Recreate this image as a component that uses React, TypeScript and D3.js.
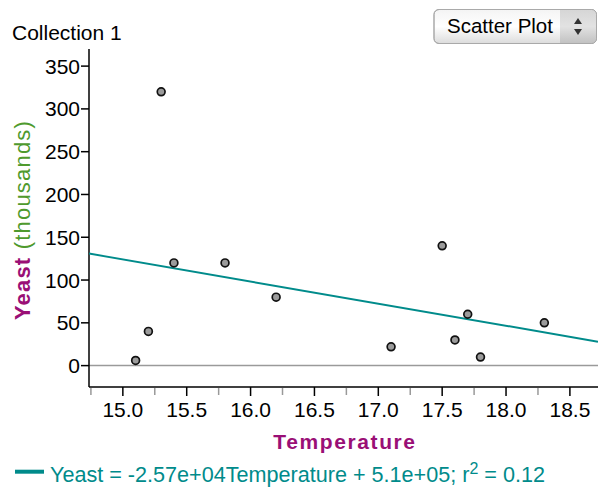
import React from "react";
import * as d3 from "d3";

const temperature = [15.1, 15.2, 15.3, 15.4, 15.8, 16.2, 17.1, 17.5, 17.6, 17.7, 17.8, 18.3];
const yeast = [6, 40, 320, 120, 120, 80, 22, 140, 30, 60, 10, 50];
const yTicks = [0, 50, 100, 150, 200, 250, 300, 350];
const xMajorTicks = [15.0, 15.5, 16.0, 16.5, 17.0, 17.5, 18.0, 18.5];
const xMinorTicks = [14.75, 15.25, 15.75, 16.25, 16.75, 17.25, 17.75, 18.25];

const W = 598;
const H = 489;
const FONT = "'Liberation Sans', Arial, sans-serif";
const TEAL = "#008b8b";
const PURPLE = "#9a0f76";

export default function App() {
  const left = 89, right = 598, top = 49, bottom = 387;
  const x = d3.scaleLinear().domain([14.735, 18.72]).range([left, right]);
  const y = d3.scaleLinear().domain([-25, 370]).range([bottom, top]);

  const mx = d3.mean(temperature) as number;
  const my = d3.mean(yeast) as number;
  let sxy = 0, sxx = 0;
  temperature.forEach((t, i) => {
    sxy += (t - mx) * (yeast[i] - my);
    sxx += (t - mx) * (t - mx);
  });
  const slope = sxy / sxx;
  const intercept = my - slope * mx;
  const [x0, x1] = x.domain();
  const line = d3.line<number>().x((d) => x(d)).y((d) => y(slope * d + intercept));

  return (
    <svg width={W} height={H} style={{ position: "absolute", left: 0, top: 0 }} fontFamily={FONT}>
      <defs>
        <linearGradient id="btn" x1="0" y1="0" x2="0" y2="1">
          <stop offset="0" stopColor="#f4f4f4" />
          <stop offset="0.5" stopColor="#ffffff" />
          <stop offset="1" stopColor="#dcdcdc" />
        </linearGradient>
        <linearGradient id="btn2" x1="0" y1="0" x2="0" y2="1">
          <stop offset="0" stopColor="#d6d6d6" />
          <stop offset="0.5" stopColor="#e2e2e2" />
          <stop offset="1" stopColor="#c2c2c2" />
        </linearGradient>
        <clipPath id="plot">
          <rect x={left} y={top} width={right - left} height={bottom - top} />
        </clipPath>
      </defs>
      <rect width={W} height={H} fill="#fff" />

      <text x={12} y={40} fontSize={21} fill="#000">Collection 1</text>

      {/* dropdown */}
      <rect x={434} y={9.5} width={162.5} height={34} rx={5} fill="url(#btn)" stroke="#a9a9a9" />
      <path d="M560,10 H591.5 a4.5,4.5 0 0 1 4.5,4.5 V38.5 a4.5,4.5 0 0 1 -4.5,4.5 H560 Z" fill="url(#btn2)" />
      <rect x={434} y={9.5} width={162.5} height={34} rx={5} fill="none" stroke="#a9a9a9" />
      <text x={447} y={33} fontSize={20.5} fill="#000">Scatter Plot</text>
      <path d="M578,18 L582,24 L574,24 Z" fill="#333" />
      <path d="M578,35 L582,29 L574,29 Z" fill="#333" />

      {/* zero line */}
      <line x1={left} x2={right} y1={y(0)} y2={y(0)} stroke="#9a9a9a" strokeWidth={1.5} />

      {/* axes */}
      <line x1={left} x2={left} y1={top} y2={bottom} stroke="#000" strokeWidth={1.5} />
      <line x1={left} x2={right} y1={bottom} y2={bottom} stroke="#000" strokeWidth={1.5} />

      {yTicks.map((t) => (
        <g key={"y" + t}>
          <line x1={81} x2={left} y1={y(t)} y2={y(t)} stroke="#000" strokeWidth={1.5} />
          <text x={80} y={y(t)} dy="0.36em" textAnchor="end" fontSize={21} fill="#000">{t}</text>
        </g>
      ))}
      {xMinorTicks.map((t) => (
        <line key={"xm" + t} x1={x(t)} x2={x(t)} y1={bottom + 1} y2={bottom + 8} stroke="#999" strokeWidth={1.5} />
      ))}
      {xMajorTicks.map((t) => (
        <g key={"x" + t}>
          <line x1={x(t)} x2={x(t)} y1={bottom} y2={bottom + 9} stroke="#000" strokeWidth={1.5} />
          <text x={x(t)} y={416.5} textAnchor="middle" fontSize={21} fill="#000">{t.toFixed(1)}</text>
        </g>
      ))}

      {/* regression line */}
      <path d={line([x0, x1]) as string} stroke={TEAL} strokeWidth={2} fill="none" clipPath="url(#plot)" />

      {/* points */}
      {temperature.map((t, i) => (
        <circle key={i} cx={x(t)} cy={y(yeast[i])} r={3.9} fill="#9b9b9b" stroke="#111" strokeWidth={1.7} />
      ))}

      {/* axis labels */}
      <text x={345} y={449} textAnchor="middle" fontSize={21} fontWeight="bold" fill={PURPLE} letterSpacing={1.6}>Temperature</text>
      <text transform="translate(30,220) rotate(-90)" textAnchor="middle" fontSize={22} letterSpacing={1.2}>
        <tspan fontWeight="bold" fill={PURPLE}>Yeast</tspan>
        <tspan fill="#4f9a2e"> (thousands)</tspan>
      </text>

      {/* legend */}
      <line x1={15} x2={44} y1={471.7} y2={471.7} stroke={TEAL} strokeWidth={4} />
      <text x={50} y={482} fontSize={21.6} fill={TEAL}>
        <tspan>Yeast = -2.57e+04Temperature + 5.1e+05; r</tspan>
        <tspan fontSize={16} dy={-8}>2</tspan>
        <tspan dy={8}> = 0.12</tspan>
      </text>
    </svg>
  );
}
